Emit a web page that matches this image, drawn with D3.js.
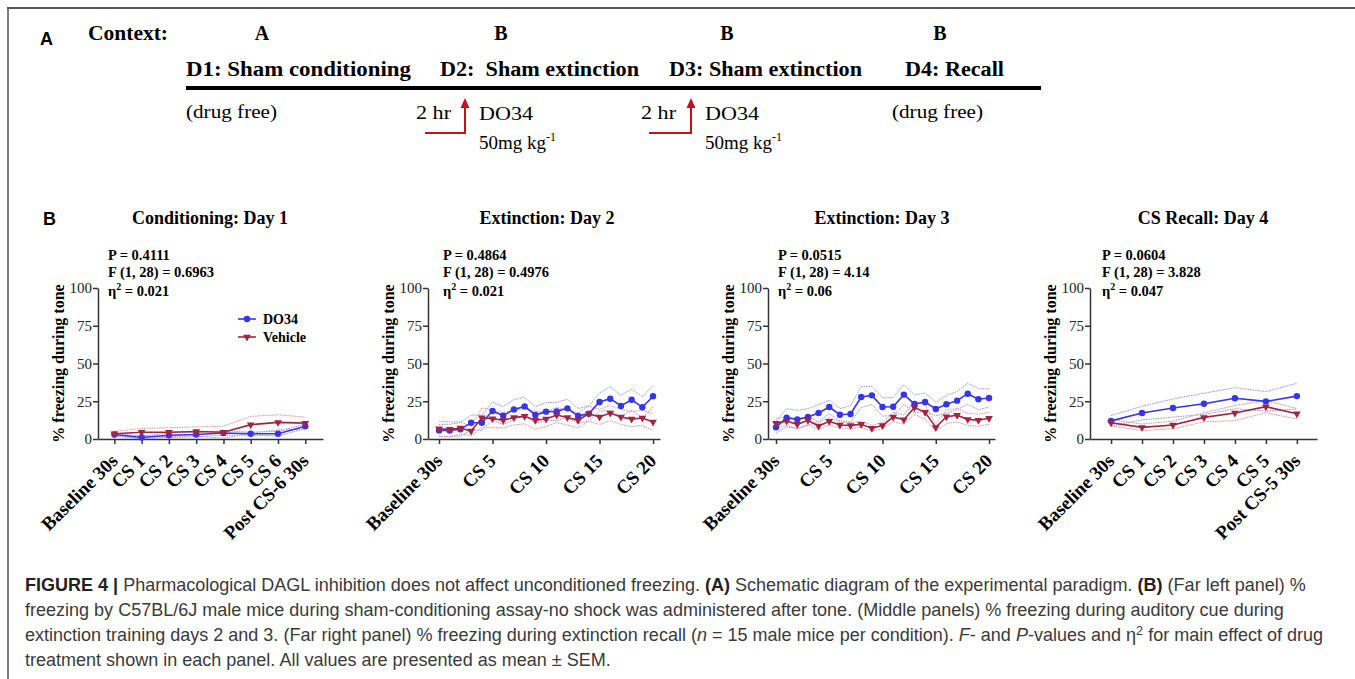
<!DOCTYPE html>
<html><head><meta charset="utf-8">
<script src="https://cdn.jsdelivr.net/npm/d3@7"></script>
<style>body{margin:0;background:#fff} svg{display:block} text{white-space:pre}</style>
</head><body><svg id="c" width="1355" height="679"></svg>
<script>
// ---------------- data ----------------
const yTicks = [0, 25, 50, 75, 100];
const seriesNames = ["DO34", "Vehicle"];

const day1Labels = ["Baseline 30s","CS 1","CS 2","CS 3","CS 4","CS 5","CS 6","Post CS-6 30s"];
const day1DO34 = [3, 1, 2.5, 3, 4, 3.5, 3.5, 8.5];
const day1DO34Sem = [1, 0.8, 1.5, 1.5, 1.5, 1, 1.5, 1.5];
const day1Vehicle = [3.5, 4.5, 4.5, 5, 4.5, 9.5, 11, 10.5];
const day1VehicleSem = [1.5, 2.5, 3, 3, 4, 5.5, 5, 4];
const day1Stats = ["0.4111", "0.6963", "0.021"];

const extLabels = ["Baseline 30s","CS 1","CS 2","CS 3","CS 4","CS 5","CS 6","CS 7","CS 8","CS 9","CS 10",
  "CS 11","CS 12","CS 13","CS 14","CS 15","CS 16","CS 17","CS 18","CS 19","CS 20"];
const extTickIdx = [0, 5, 10, 15, 20];

const day2DO34 = [5.7,5.7,6.4,10.8,10.8,18.5,15.5,19.6,21.6,15.9,18.1,18.3,20.3,15.2,16.8,24.5,26.7,21.9,26.0,21.0,28.3];
const day2DO34Sem = [4,4,4.5,5,5,6,6,6.5,6,5.5,6,6,6,5,5,6,8,7,7,7,7];
const day2Vehicle = [6.8,6.4,7.3,5.3,14.0,13.5,12.4,14.3,15.0,12.4,13.2,15.9,14.3,12.4,16.8,14.6,17.2,14.6,13.2,13.9,11.3];
const day2VehicleSem = [5,5,4,3,6.5,6,5,5,5,6,5,5,5,5,5,5,5,5,5,5,5.5];
const day2Stats = ["0.4864", "0.4976", "0.021"];

const day3DO34 = [7.7,14.1,13.0,14.6,17.2,21.2,16.1,16.6,27.8,28.9,21.2,21.4,29.4,23.2,24.5,19.9,23.0,25.4,30.0,26.3,27.2];
const day3DO34Sem = [4,6,6,5.5,5.5,4.5,4,5.5,7,6,6,6,6.5,6,6,4.5,6,6,7,7,6];
const day3Vehicle = [10.4,11.9,9.7,12.4,8.6,11.7,9.3,9.0,9.7,7.1,9.0,14.6,12.8,20.8,17.7,7.7,14.8,15.7,13.0,12.4,13.7];
const day3VehicleSem = [3,3,3,3,2.5,2.5,2,2,2,2,2,3,3,4.5,4.5,2.5,4.5,4.5,4,4,4];
const day3Stats = ["0.0515", "4.14", "0.06"];

const day4Labels = ["Baseline 30s","CS 1","CS 2","CS 3","CS 4","CS 5","Post CS-5 30s"];
const day4DO34 = [12.0,17.2,20.5,23.3,27.0,24.9,28.4];
const day4DO34Sem = [3.5,4.5,6,7,7,6.5,8.5];
const day4Vehicle = [10.8,7.7,9.3,14.3,17.2,21.4,16.7];
const day4VehicleSem = [2,2.2,2.5,3,5,4,3.5];
const day4Stats = ["0.0604", "3.828", "0.047"];

const panelTitles = ["Conditioning: Day 1", "Extinction: Day 2", "Extinction: Day 3", "CS Recall: Day 4"];

// ---------------- layout ----------------
const SERIF = '"Liberation Serif","Times New Roman",serif';
const SANS = '"Liberation Sans",Arial,sans-serif';
const BLUE = "#3434f2", RED = "#a3243c";
const BLUE_L = "#8f8ff7", RED_L = "#dc8e9c";
const svg = d3.select("#c");
svg.append("rect").attr("width",1355).attr("height",679).attr("fill","#fff");

// frame
svg.append("line").attr("x1",7).attr("x2",1355).attr("y1",8).attr("y2",8).attr("stroke","#555").attr("stroke-width",2);
svg.append("line").attr("x1",8).attr("x2",8).attr("y1",8).attr("y2",679).attr("stroke","#555").attr("stroke-width",1.5);

// ---------------- Panel A ----------------
const gA = svg.append("g");
gA.append("text").attr("x",40).attr("y",45).attr("font-family",SANS).attr("font-weight","bold").attr("font-size",18).text("A");
function serifText(x, y, s, size, bold, width, anchor) {
  const t = gA.append("text").attr("x",x).attr("y",y).attr("font-family",SERIF)
    .attr("font-size",size).attr("font-weight",bold ? "bold" : "normal").attr("fill","#000").text(s);
  if (anchor) t.attr("text-anchor", anchor);
  if (width) t.attr("textLength", width).attr("lengthAdjust","spacingAndGlyphs");
  return t;
}
serifText(88, 40, "Context:", 20, true, 80);
const ctxLetters = ["A","B","B","B"];
const ctxX = [262, 501, 727, 940];
ctxLetters.forEach((c,i)=>serifText(ctxX[i], 40, c, 20, true, null, "middle"));
const dayNames = ["D1: Sham conditioning", "D2:  Sham extinction", "D3: Sham extinction", "D4: Recall"];
const dayX = [186, 440, 669, 905], dayW = [225, 199, 193, 99];
dayNames.forEach((d,i)=>serifText(dayX[i], 76, d, 20, true, dayW[i]));
gA.append("line").attr("x1",186).attr("x2",1041).attr("y1",88).attr("y2",88).attr("stroke","#000").attr("stroke-width",4);
serifText(186, 118, "(drug free)", 19, false, 91);
serifText(892, 118, "(drug free)", 19, false, 91);
[[416, 425, 465], [641, 649, 691]].forEach(([tx, hx0, hx1]) => {
  serifText(tx, 119, "2 hr", 19, false, 35);
  gA.append("path").attr("d",`M${hx0},133 H${hx1} V106`).attr("fill","none").attr("stroke","#c0141c").attr("stroke-width",2);
  gA.append("path").attr("d",`M${hx1-4.5},108 L${hx1},98 L${hx1+4.5},108 Z`).attr("fill","#c0141c");
  serifText(hx1+14, 120, "DO34", 19, false, 54);
  const t = serifText(hx1+14, 149, "50mg kg", 19, false);
  t.append("tspan").attr("dy",-8).attr("font-size",12).text("-1");
});

// ---------------- Panel B ----------------
svg.append("text").attr("x",43).attr("y",225).attr("font-family",SANS).attr("font-weight","bold").attr("font-size",18).text("B");

const panels = [
  {labels: day1Labels, tickIdx: d3.range(day1Labels.length), d: day1DO34, dS: day1DO34Sem, v: day1Vehicle, vS: day1VehicleSem, stats: day1Stats,
   ax0: 98, ax1: 323, dom: [-0.6, 7.65], titleX: 210, statX: 108, legend: true},
  {labels: extLabels, tickIdx: extTickIdx, d: day2DO34, dS: day2DO34Sem, v: day2Vehicle, vS: day2VehicleSem, stats: day2Stats,
   ax0: 428, ax1: 660, dom: [-1.03, 20.65], titleX: 547, statX: 443},
  {labels: extLabels, tickIdx: extTickIdx, d: day3DO34, dS: day3DO34Sem, v: day3Vehicle, vS: day3VehicleSem, stats: day3Stats,
   ax0: 768, ax1: 995, dom: [-0.75, 20.56], titleX: 882, statX: 778},
  {labels: day4Labels, tickIdx: d3.range(day4Labels.length), d: day4DO34, dS: day4DO34Sem, v: day4Vehicle, vS: day4VehicleSem, stats: day4Stats,
   ax0: 1090, ax1: 1317, dom: [-0.68, 6.65], titleX: 1203, statX: 1102}
];

const y = d3.scaleLinear().domain([0,100]).range([439,288]);

panels.forEach((p, pi) => {
  const g = svg.append("g");
  const x = d3.scaleLinear().domain(p.dom).range([p.ax0, p.ax1]);

  // title
  g.append("text").attr("x",p.titleX).attr("y",224).attr("text-anchor","middle").attr("font-family",SERIF)
    .attr("font-weight","bold").attr("font-size",18).text(panelTitles[pi]);

  // y axis
  const ya = g.append("g").attr("transform",`translate(${p.ax0},0)`)
    .call(d3.axisLeft(y).tickValues(yTicks).tickSize(5).tickSizeOuter(0).tickPadding(1));
  ya.select(".domain").attr("stroke","#333").attr("stroke-width",1.5);
  ya.selectAll(".tick line").attr("stroke","#333").attr("stroke-width",1.5);
  ya.selectAll(".tick text").attr("font-family",SERIF).attr("font-size",15).attr("fill","#222");

  // x axis
  const xa = g.append("g").attr("transform",`translate(0,${y(0)})`)
    .call(d3.axisBottom(x).tickValues(p.tickIdx).tickFormat(i => p.labels[i]).tickSize(5).tickSizeOuter(0));
  xa.select(".domain").attr("stroke","#333").attr("stroke-width",1.5);
  xa.selectAll(".tick line").attr("stroke","#333").attr("stroke-width",1.5);
  xa.selectAll(".tick text").attr("font-family",SERIF).attr("font-weight","bold").attr("font-size",19)
    .attr("fill","#000").attr("text-anchor","end").attr("dy",null).attr("y",null)
    .attr("transform","translate(4,23) rotate(-45)");

  // y axis title
  g.append("text").attr("transform",`translate(${p.ax0-34},${y(50)}) rotate(-90)`).attr("text-anchor","middle")
    .attr("font-family",SERIF).attr("font-weight","bold").attr("font-size",16).text("% freezing during tone");

  // stats
  const st = g.append("g").attr("font-family",SERIF).attr("font-weight","bold").attr("font-size",14.5);
  st.append("text").attr("x",p.statX).attr("y",260).text("P = " + p.stats[0]);
  st.append("text").attr("x",p.statX).attr("y",277).text("F (1, 28) = " + p.stats[1]);
  const et = st.append("text").attr("x",p.statX).attr("y",296);
  et.append("tspan").text("η");
  et.append("tspan").attr("dy",-6).attr("font-size",10).text("2");
  et.append("tspan").attr("dy",6).text(" = " + p.stats[2]);

  const line = d3.line().x((d,i)=>x(i)).y(d=>y(d));
  const series = [
    {m: p.d, s: p.dS, c: BLUE, cl: BLUE_L, sym: "circle"},
    {m: p.v, s: p.vS, c: RED, cl: RED_L, sym: "tri"}
  ];
  // SEM bands
  series.forEach(sr => {
    const up = sr.m.map((v,i)=>v + sr.s[i]);
    const lo = sr.m.map((v,i)=>Math.max(0, v - sr.s[i]));
    [up, lo].forEach(arr => g.append("path").attr("d", line(arr)).attr("fill","none")
      .attr("stroke", sr.cl).attr("stroke-width",1).attr("stroke-dasharray","1.5,1"));
  });
  // mean lines + markers
  const triPath = d3.symbol().type(d3.symbolTriangle).size(26)();
  series.forEach(sr => {
    g.append("path").attr("d", line(sr.m)).attr("fill","none").attr("stroke", sr.c).attr("stroke-width",1.6);
    sr.m.forEach((v,i) => {
      if (sr.sym === "circle") g.append("circle").attr("cx",x(i)).attr("cy",y(v)).attr("r",3.2).attr("fill",sr.c);
      else g.append("path").attr("d",triPath).attr("transform",`translate(${x(i)},${y(v)}) rotate(180)`).attr("fill",sr.c);
    });
  });

  if (p.legend) {
    const lg = g.append("g").attr("font-family",SERIF).attr("font-weight","bold").attr("font-size",14);
    const ly = [319, 337];
    [BLUE, RED].forEach((c, k) => {
      lg.append("line").attr("x1",238).attr("x2",256).attr("y1",ly[k]).attr("y2",ly[k]).attr("stroke",c).attr("stroke-width",1.6);
      if (k === 0) lg.append("circle").attr("cx",247).attr("cy",ly[k]).attr("r",3.2).attr("fill",c);
      else lg.append("path").attr("d",triPath).attr("transform",`translate(247,${ly[k]}) rotate(180)`).attr("fill",c);
      lg.append("text").attr("x",263).attr("y",ly[k]+4.5).text(seriesNames[k]);
    });
  }
});

// ---------------- caption ----------------
const capLines = [
  [["FIGURE 4 | ","b"],["Pharmacological DAGL inhibition does not affect unconditioned freezing. ",""],["(A)","b"],
   [" Schematic diagram of the experimental paradigm. ",""],["(B)","b"],[" (Far left panel) %",""]],
  [["freezing by C57BL/6J male mice during sham-conditioning assay-no shock was administered after tone. (Middle panels) % freezing during auditory cue during",""]],
  [["extinction training days 2 and 3. (Far right panel) % freezing during extinction recall (",""],["n","i"],
   [" = 15 male mice per condition). ",""],["F","i"],["- and ",""],["P","i"],["-values and η",""],["2","sup"],[" for main effect of drug",""]],
  [["treatment shown in each panel. All values are presented as mean ± SEM.",""]]
];
const capY = [591, 616, 641, 666];
const capNodes = capLines.map((ln, li) => {
  const t = svg.append("text").attr("x",25).attr("y",capY[li]).attr("font-family",SANS).attr("font-size",16).attr("fill","#3a3a3a");
  let sup = false;
  ln.forEach(([s, f]) => {
    const ts = t.append("tspan").text(s);
    if (f === "b") ts.attr("font-weight","bold").attr("fill","#222");
    if (f === "i") ts.attr("font-style","italic");
    if (f === "sup") { ts.attr("dy",-6).attr("font-size","0.7em"); sup = true; }
    else if (sup) { ts.attr("dy",6); sup = false; }
  });
  return t;
});
const w1 = capNodes[0].node().getComputedTextLength();
const fs = 16 * 1282 / w1;
capNodes.forEach(t => t.attr("font-size", fs));
</script></body></html>
